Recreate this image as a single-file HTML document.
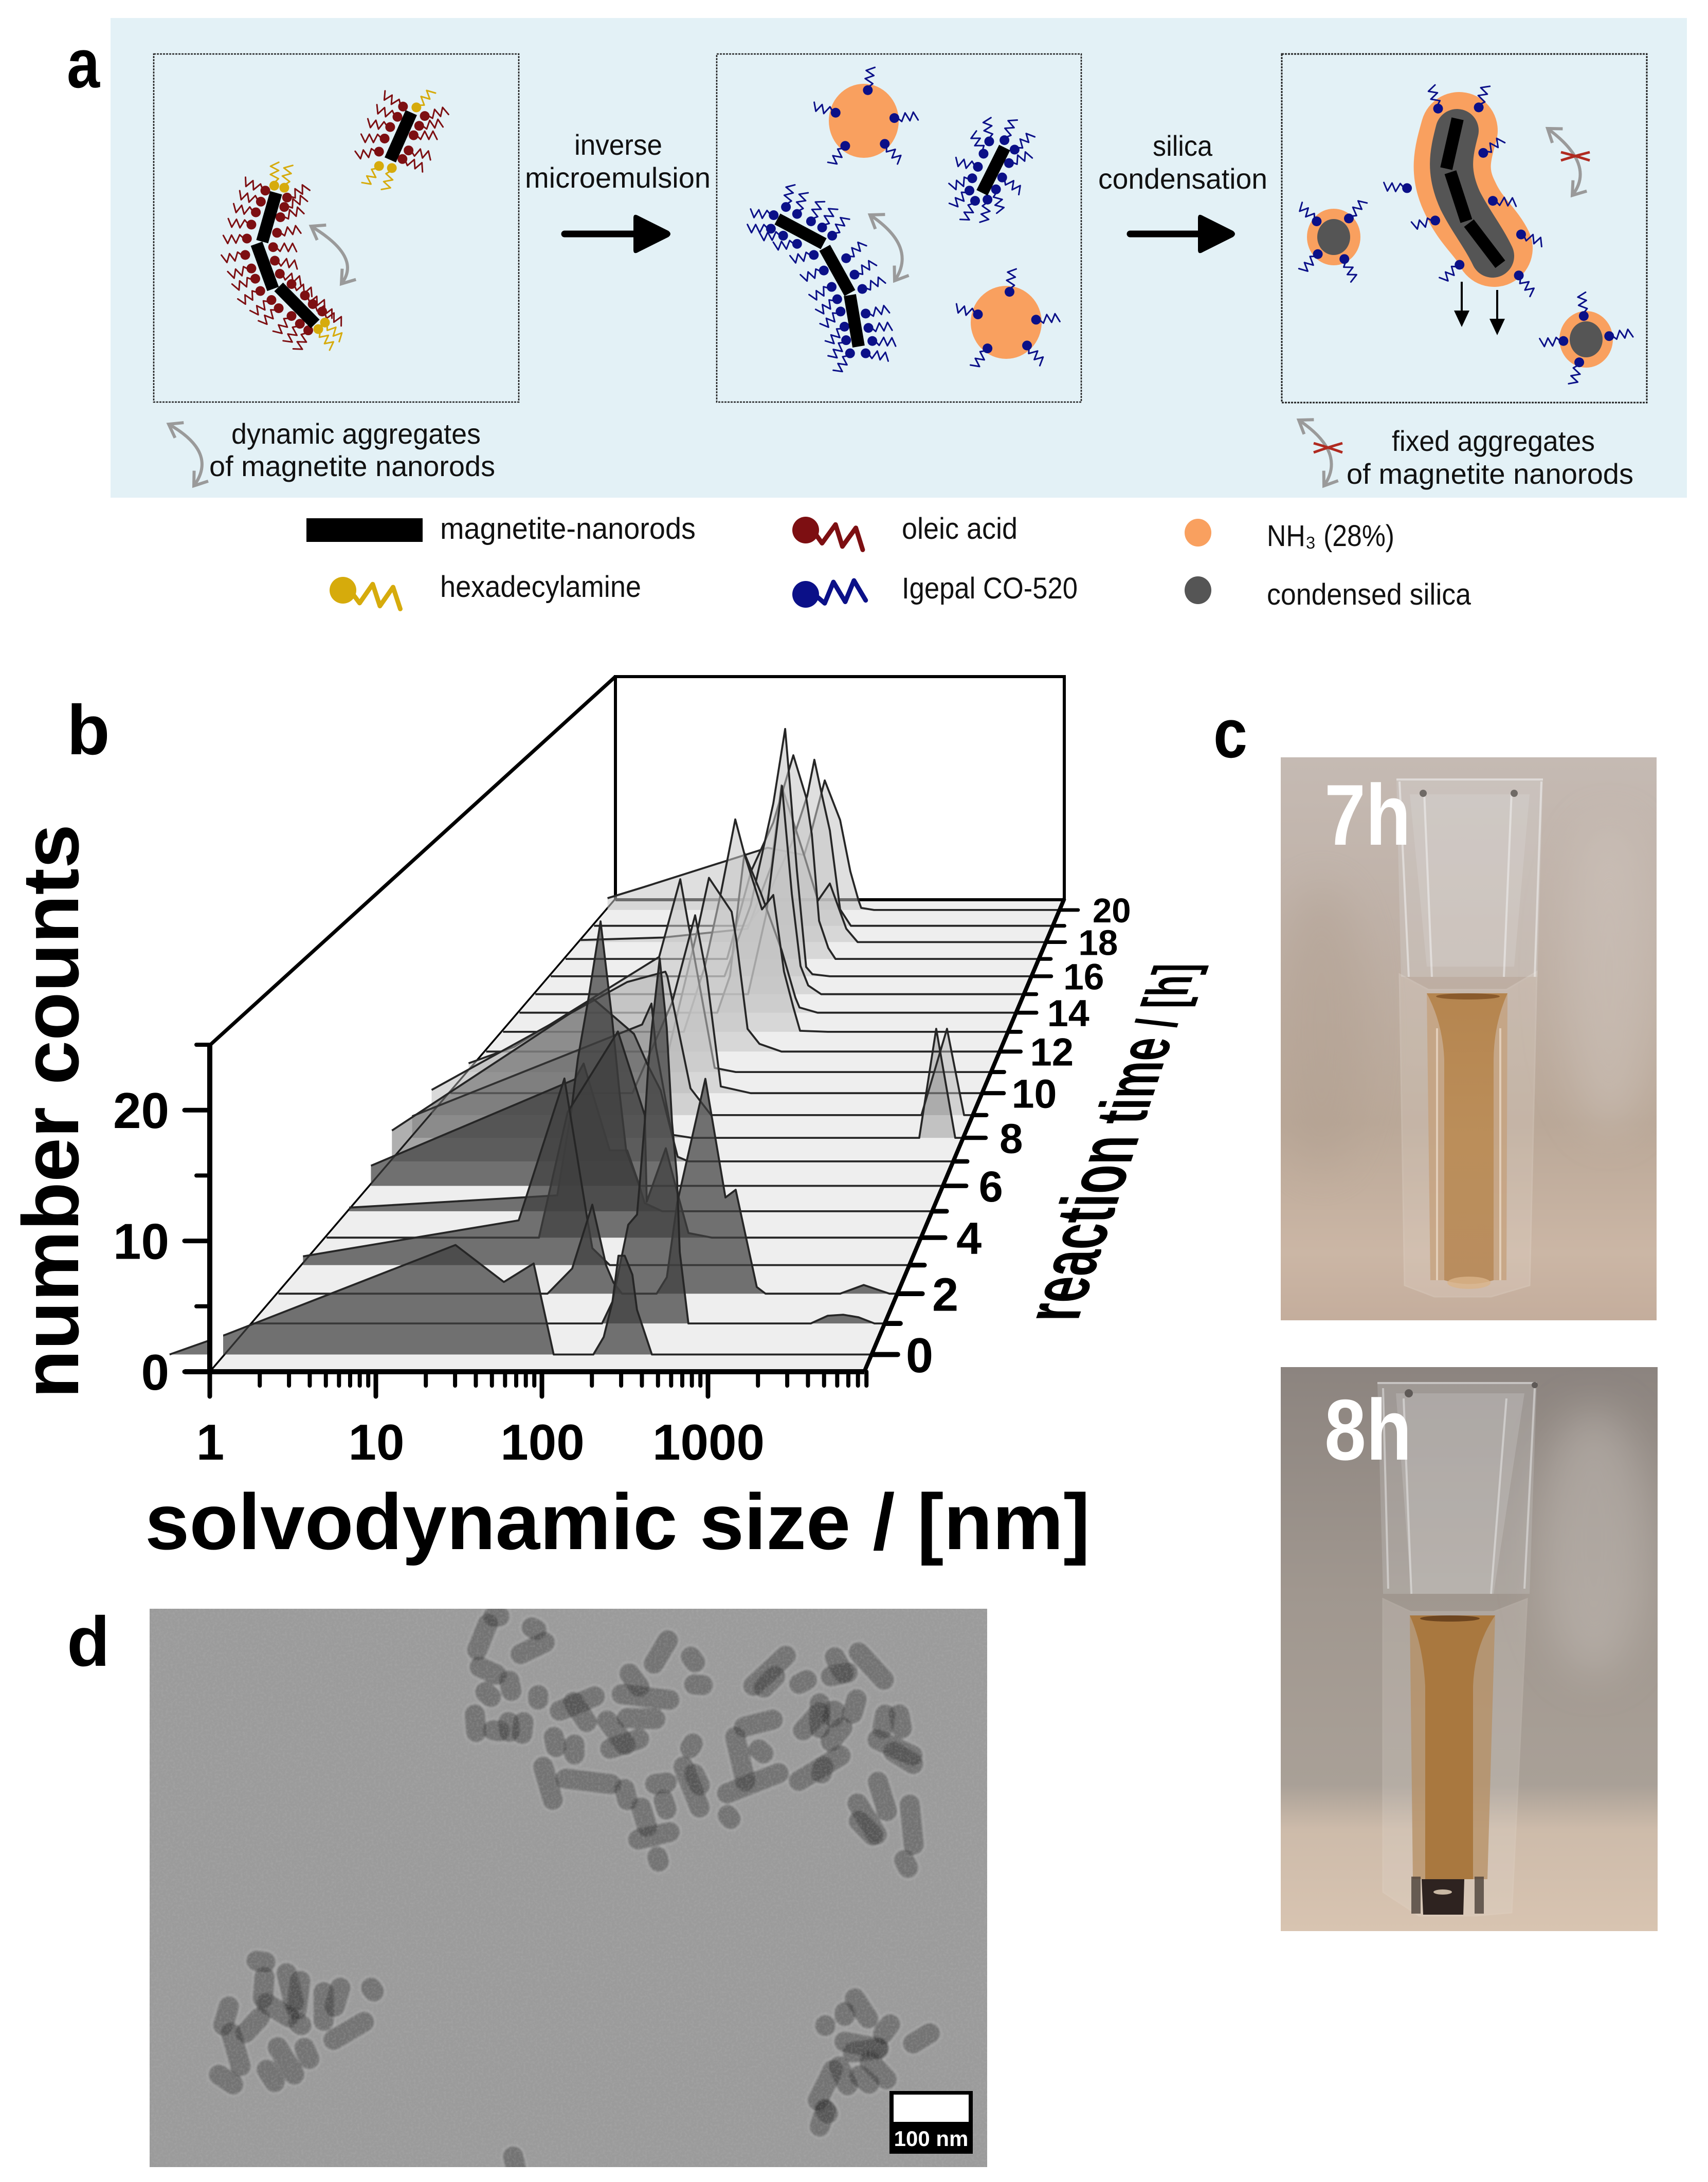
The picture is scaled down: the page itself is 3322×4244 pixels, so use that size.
<!DOCTYPE html>
<html lang="en">
<head>
<meta charset="utf-8">
<title>Magnetite nanorod aggregates figure</title>
<style>
html,body{margin:0;padding:0;background:#fff}
svg{display:block}
text{font-family:"Liberation Sans",Arial,sans-serif;fill:#111}
</style>
</head>
<body>
<svg id="fig" xmlns="http://www.w3.org/2000/svg" width="3322" height="4244" viewBox="0 0 3322 4244">
<defs>
<marker id="chev" viewBox="-30 -22 38 44" refX="0" refY="0" markerWidth="38" markerHeight="44" markerUnits="userSpaceOnUse" orient="auto-start-reverse">
<path d="M-24,-17 L0,0 L-24,17" fill="none" stroke="#9a9a9a" stroke-width="6"/>
</marker>
<linearGradient id="photo1" x1="0" y1="0" x2="0" y2="1">
<stop offset="0" stop-color="#c5bab3"/><stop offset=".3" stop-color="#bfb1a7"/><stop offset=".65" stop-color="#baa898"/><stop offset=".88" stop-color="#cbb6a5"/><stop offset="1" stop-color="#c4ad9c"/>
</linearGradient>
<linearGradient id="photo2" x1="0" y1="0" x2="0" y2="1">
<stop offset="0" stop-color="#8c847f"/><stop offset=".4" stop-color="#a0978f"/><stop offset=".74" stop-color="#a9a097"/><stop offset=".82" stop-color="#cdbbaa"/><stop offset="1" stop-color="#d8c4b1"/>
</linearGradient>
<linearGradient id="amber" x1="0" y1="0" x2="0" y2="1">
<stop offset="0" stop-color="#b5854f"/><stop offset=".5" stop-color="#bb8e5a"/><stop offset="1" stop-color="#b98d5f"/>
</linearGradient>
<clipPath id="clip1"><rect x="2491" y="1473" width="731" height="1095"/></clipPath>
<clipPath id="clip2"><rect x="2491" y="2659" width="733" height="1097"/></clipPath>
<filter id="soft" x="-50%" y="-50%" width="200%" height="200%"><feGaussianBlur stdDeviation="40"/></filter>
<filter id="blur2" filterUnits="userSpaceOnUse" x="291" y="3129" width="1629" height="1086"><feGaussianBlur stdDeviation="2.2"/></filter>
<filter id="noise" x="0" y="0" width="100%" height="100%">
<feTurbulence type="fractalNoise" baseFrequency="0.22" numOctaves="2" seed="4"/>
<feColorMatrix type="matrix" values="0 0 0 0 0.5  0 0 0 0 0.5  0 0 0 0 0.5  1.4 0 0 0 -0.55"/>
</filter>
</defs>

<rect width="3322" height="4244" fill="#fff"/>

<!-- PANEL A -->
<g id="panelA">
<rect x="215" y="35" width="3066" height="933" fill="#e3f1f6"/>
<text x="130" y="170" font-size="135" font-weight="700" fill="#000" style="fill:#000" textLength="64" lengthAdjust="spacingAndGlyphs">a</text>
<rect x="299" y="105" width="710" height="677" fill="none" stroke="#222" stroke-width="2.6" stroke-dasharray="4 2"/>
<rect x="1394" y="105" width="709" height="677" fill="none" stroke="#222" stroke-width="2.6" stroke-dasharray="4 2"/>
<rect x="2493" y="105" width="710" height="678" fill="none" stroke="#222" stroke-width="3" stroke-dasharray="4 2"/>

<text x="1117" y="301" font-size="56" textLength="171" lengthAdjust="spacingAndGlyphs">inverse</text>
<text x="1021" y="365" font-size="56" textLength="361" lengthAdjust="spacingAndGlyphs">microemulsion</text>
<text x="2242" y="303" font-size="56" textLength="116" lengthAdjust="spacingAndGlyphs">silica</text>
<text x="2136" y="367" font-size="56" textLength="329" lengthAdjust="spacingAndGlyphs">condensation</text>
<text x="450" y="863" font-size="56" textLength="485" lengthAdjust="spacingAndGlyphs">dynamic aggregates</text>
<text x="407" y="926" font-size="56" textLength="556" lengthAdjust="spacingAndGlyphs">of magnetite nanorods</text>
<text x="2707" y="877" font-size="56" textLength="395" lengthAdjust="spacingAndGlyphs">fixed aggregates</text>
<text x="2619" y="941" font-size="56" textLength="558" lengthAdjust="spacingAndGlyphs">of magnetite nanorods</text>

<g>
<line x1="1098" y1="455" x2="1240" y2="455" stroke="#000" stroke-width="13" stroke-linecap="round"/>
<path d="M1232,424 Q1232,414 1242,420 L1300,449 Q1308,455 1300,461 L1242,490 Q1232,496 1232,486 Z" fill="#000"/>
</g>
<g>
<line x1="2198" y1="455" x2="2340" y2="455" stroke="#000" stroke-width="13" stroke-linecap="round"/>
<path d="M2330,424 Q2330,414 2340,420 L2398,449 Q2406,455 2398,461 L2340,490 Q2330,496 2330,486 Z" fill="#000"/>
</g>

<path d="M605,440 Q705,500 664,552" fill="none" stroke="#9a9a9a" stroke-width="6" marker-start="url(#chev)" marker-end="url(#chev)"/>
<path d="M328,825 Q425,880 377,945" fill="none" stroke="#9a9a9a" stroke-width="6" marker-start="url(#chev)" marker-end="url(#chev)"/>
<path d="M1692,418 Q1785,480 1740,546" fill="none" stroke="#9a9a9a" stroke-width="6" marker-start="url(#chev)" marker-end="url(#chev)"/>
<path d="M3010,250 Q3105,320 3058,380" fill="none" stroke="#9a9a9a" stroke-width="6" marker-start="url(#chev)" marker-end="url(#chev)"/>
<path d="M2526,817 Q2620,880 2575,945" fill="none" stroke="#9a9a9a" stroke-width="6" marker-start="url(#chev)" marker-end="url(#chev)"/>
<g stroke="#b02a20" stroke-width="5" fill="none">
<path d="M3036,296 Q3064,303 3092,312"/><path d="M3036,312 Q3064,303 3092,296"/>
</g>
<g stroke="#b02a20" stroke-width="5" fill="none">
<path d="M2555,862 Q2583,870 2611,880"/><path d="M2555,880 Q2583,870 2611,862"/>
</g>

<ellipse cx="1680" cy="235" rx="68" ry="72" fill="#f9a05f"/>
<ellipse cx="1957" cy="627" rx="69" ry="71" fill="#f9a05f"/>
<ellipse cx="2594" cy="461" rx="52" ry="55" fill="#f9a05f"/>
<ellipse cx="2594" cy="461" rx="32" ry="35" fill="#555"/>
<ellipse cx="3085" cy="660" rx="52" ry="55" fill="#f9a05f"/>
<ellipse cx="3085" cy="660" rx="32" ry="35" fill="#555"/>
<path d="M2838,254 C2825,300 2815,335 2840,385 C2860,430 2890,450 2906,483" fill="none" stroke="#f9a05f" stroke-width="150" stroke-linecap="round" stroke-linejoin="round"/>
<path d="M2834,254 C2822,300 2815,335 2840,390 C2860,430 2885,460 2903,498" fill="none" stroke="#555" stroke-width="84" stroke-linecap="round" stroke-linejoin="round"/>

<g id="mols"></g>

<g stroke="#000" stroke-width="24" fill="none">
<line x1="537" y1="375" x2="510" y2="470"/><line x1="499" y1="474" x2="531" y2="562"/><line x1="542" y1="558" x2="613" y2="630"/>
<line x1="800" y1="219" x2="759" y2="311"/>
<line x1="1512" y1="426" x2="1602" y2="474"/><line x1="1604" y1="482" x2="1653" y2="570"/><line x1="1653" y1="574" x2="1670" y2="674"/>
<line x1="1954" y1="287" x2="1910" y2="375"/>
<line x1="2835" y1="231" x2="2813" y2="328"/><line x1="2821" y1="335" x2="2852" y2="430"/><line x1="2857" y1="434" x2="2918" y2="514"/>
</g>
<g>
<line x1="2843" y1="548" x2="2843" y2="610" stroke="#000" stroke-width="4"/><path d="M2828,604 L2858,604 L2843,636 Z" fill="#000"/>
<line x1="2912" y1="564" x2="2912" y2="626" stroke="#000" stroke-width="4"/><path d="M2897,620 L2927,620 L2912,652 Z" fill="#000"/>
</g>
</g>

<!-- LEGEND -->
<g>
<rect x="596" y="1008" width="226" height="46" fill="#000"/>
<text x="856" y="1048" font-size="58" textLength="497" lengthAdjust="spacingAndGlyphs">magnetite-nanorods</text>
<text x="856" y="1161" font-size="58" textLength="391" lengthAdjust="spacingAndGlyphs">hexadecylamine</text>
<text x="1754" y="1048" font-size="58" textLength="225" lengthAdjust="spacingAndGlyphs">oleic acid</text>
<text x="1754" y="1164" font-size="58" textLength="342" lengthAdjust="spacingAndGlyphs">Igepal CO-520</text>
<ellipse cx="2330" cy="1036" rx="26" ry="27" fill="#f9a05f"/>
<ellipse cx="2330" cy="1148" rx="26" ry="27" fill="#555"/>
<text x="2464" y="1062" font-size="58" textLength="248" lengthAdjust="spacingAndGlyphs">NH₃ (28%)</text>
<text x="2464" y="1176" font-size="58" textLength="397" lengthAdjust="spacingAndGlyphs">condensed silica</text>
</g>

<!-- PANEL B -->
<g id="panelB">
<text x="130" y="1467" font-size="137" font-weight="700" style="fill:#000">b</text>
<polygon points="1197,1748 2070,1748 1681,2668 408,2668" fill="#eeeeee"/>
<line x1="408" y1="2668" x2="1197" y2="1748" stroke="#000" stroke-width="3.5"/>
<line x1="1197" y1="1750" x2="2070" y2="1750" stroke="#000" stroke-width="6"/>
<path d="M1197,1748 L1197,1316 L2070,1316 L2070,1750" fill="none" stroke="#000" stroke-width="6"/>
<g id="series"></g>
<rect x="413" y="2585" width="21" height="50" fill="#fff"/>
<line x1="408" y1="2033" x2="1197" y2="1316" stroke="#000" stroke-width="7"/>
<line x1="408" y1="2030" x2="408" y2="2672" stroke="#000" stroke-width="10"/>
<line x1="359" y1="2668" x2="1681" y2="2668" stroke="#000" stroke-width="10"/>
<line x1="2070" y1="1748" x2="1681" y2="2668" stroke="#000" stroke-width="8"/>
<g id="axes"></g>
<text transform="translate(152,2720) rotate(-90)" font-size="155" font-weight="700" style="fill:#000" textLength="1117" lengthAdjust="spacingAndGlyphs">number counts</text>
<text x="282" y="3013" font-size="154" font-weight="700" style="fill:#000" textLength="1838" lengthAdjust="spacingAndGlyphs">solvodynamic size / [nm]</text>
<g transform="matrix(0.3168,-0.9485,1.6,0,2096,2570)">
<text font-weight="700" style="fill:#000" font-size="98"><tspan>reaction</tspan><tspan font-size="86"> time</tspan><tspan font-size="72"> / [h]</tspan></text>
</g>
</g>

<!-- PANEL C -->
<g>
<text x="2360" y="1473" font-size="135" font-weight="700" style="fill:#000" textLength="66" lengthAdjust="spacingAndGlyphs">c</text>
<g clip-path="url(#clip1)">
<rect x="2491" y="1473" width="731" height="1095" fill="url(#photo1)"/>
<ellipse cx="2570" cy="2000" rx="90" ry="280" fill="#b09f90" opacity=".45" filter="url(#soft)"/>
<ellipse cx="3130" cy="1900" rx="90" ry="300" fill="#cfc5bd" opacity=".5" filter="url(#soft)"/>
<path d="M2716,1516 L3001,1516 L2990,1900 L2725,1900 Z" fill="#dcdcdc" opacity=".28"/>
<path d="M2742,1545 L2975,1545 L2945,1880 L2775,1880 Z" fill="#e6e6e6" opacity=".2"/>
<g stroke="#f3f3f3" stroke-width="4" opacity=".55" fill="none">
<line x1="2716" y1="1516" x2="3001" y2="1516"/><line x1="2722" y1="1520" x2="2740" y2="1900"/><line x1="2998" y1="1520" x2="2985" y2="1900"/>
<line x1="2770" y1="1540" x2="2785" y2="1900"/><line x1="2940" y1="1540" x2="2925" y2="1900"/>
</g>
<circle cx="2768" cy="1543" r="7" fill="#6f6a66"/><circle cx="2945" cy="1543" r="7" fill="#6f6a66"/>
<path d="M2722,1895 L2778,1925 L2930,1925 L2989,1890 L2975,2500 L2900,2522 L2790,2522 L2732,2500 Z" fill="#ece2d8" opacity=".22" stroke="#f7f1ea" stroke-width="3"/>
<path d="M2775,1932 L2932,1932 L2930,2490 L2782,2490 Z" fill="#c49e78" opacity=".7"/>
<path d="M2775,1932 L2932,1932 Q2906,1990 2905,2060 L2905,2490 Q2857,2505 2809,2490 L2809,2060 Q2806,1990 2775,1932 Z" fill="url(#amber)"/>
<ellipse cx="2855" cy="1938" rx="62" ry="6" fill="#8a5a2c"/>
<line x1="2795" y1="2000" x2="2795" y2="2490" stroke="#ead9c6" stroke-width="4" opacity=".8"/>
<line x1="2918" y1="2000" x2="2918" y2="2490" stroke="#ead9c6" stroke-width="4" opacity=".8"/>
<ellipse cx="2857" cy="2495" rx="42" ry="12" fill="#d9b48a" opacity=".8"/>
<text x="2576" y="1643" font-size="168" font-weight="700" style="fill:#fff" textLength="168" lengthAdjust="spacingAndGlyphs">7h</text>
</g>
<g clip-path="url(#clip2)">
<rect x="2491" y="2659" width="733" height="1097" fill="url(#photo2)"/>
<ellipse cx="3100" cy="3000" rx="110" ry="260" fill="#c2bbb5" opacity=".5" filter="url(#soft)"/>
<path d="M2679,2688 L2989,2688 L2975,3100 L2690,3100 Z" fill="#d6d6d6" opacity=".24"/>
<path d="M2715,2710 L2965,2710 L2905,3100 L2745,3100 Z" fill="#e6e6e6" opacity=".2"/>
<g stroke="#eeeeee" stroke-width="4" opacity=".5" fill="none">
<line x1="2679" y1="2690" x2="2989" y2="2690"/><line x1="2690" y1="2700" x2="2700" y2="3090"/><line x1="2985" y1="2700" x2="2965" y2="3090"/>
<line x1="2730" y1="2720" x2="2745" y2="3100"/><line x1="2930" y1="2720" x2="2900" y2="3100"/>
</g>
<circle cx="2740" cy="2710" r="8" fill="#5f5a57"/><circle cx="2985" cy="2694" r="6" fill="#5f5a57"/>
<path d="M2690,3110 L2744,3135 L2905,3135 L2970,3110 L2940,3720 L2870,3726 L2760,3726 L2690,3680 Z" fill="#e6e0da" opacity=".2" stroke="#efe8e0" stroke-width="3"/>
<path d="M2742,3142 L2908,3142 L2893,3655 L2748,3655 Z" fill="#b58f63" opacity=".75"/>
<path d="M2742,3142 L2908,3142 Q2868,3200 2865,3280 L2865,3655 L2772,3655 L2772,3280 Q2768,3200 2742,3142 Z" fill="#a9783f"/>
<ellipse cx="2820" cy="3148" rx="58" ry="6" fill="#6d451f"/>
<path d="M2765,3655 L2848,3655 L2846,3724 L2768,3724 Z" fill="#2e2320"/>
<ellipse cx="2806" cy="3680" rx="18" ry="5" fill="#c9b8a4"/>
<rect x="2745" y="3650" width="18" height="72" fill="#4a4038" opacity=".8"/><rect x="2868" y="3650" width="18" height="72" fill="#4a4038" opacity=".8"/>
<text x="2576" y="2839" font-size="168" font-weight="700" style="fill:#fff" textLength="170" lengthAdjust="spacingAndGlyphs">8h</text>
</g>
</g>

<!-- PANEL D -->
<g>
<text x="130" y="3240" font-size="137" font-weight="700" style="fill:#000">d</text>
<svg x="291" y="3129" width="1629" height="1086" viewBox="291 3129 1629 1086">
<rect x="291" y="3129" width="1629" height="1086" fill="#9b9b9b"/>
<g id="rods" filter="url(#blur2)"></g>
<rect x="291" y="3129" width="1629" height="1086" filter="url(#noise)" opacity=".35"/>
</svg>
<rect x="1730" y="4067" width="162" height="122" fill="#000"/>
<rect x="1738" y="4074" width="146" height="53" fill="#fff"/>
<text x="1811" y="4174" font-size="42" font-weight="700" text-anchor="middle" style="fill:#fff">100 nm</text>
</g>
</svg>

<script>
// ===== Chart b data =====
const hours = [0,1,2,3,4,5,6,7,8,9,10,11,12,13,14,15,16,17,18,19,20];
const xDecades = [1,10,100,1000];
const xMinorLimit = 9000;
const yMajorTicks = [0,10,20];
const yMinorTicks = [5,15,25];
const timeLabels = [0,2,4,6,8,10,12,14,16,18,20];
// log10(size / nm) of each vertex, per reaction-time series
const logSizes = [
[-0.346,0,1.398,1.693,1.875,1.997,2.239,2.302,2.355,2.392,2.43,2.477,2.505,2.596,3.94],
[0,2.175,2.239,2.338,2.393,2.409,2.441,2.463,2.485,2.534,2.578,2.611,2.642,2.659,2.713,3.475,3.581,3.677,3.773,3.872,3.94],
[0,1.711,1.868,1.996,2.084,2.13,2.185,2.405,2.47,2.536,2.715,2.843,2.908,3.042,3.098,3.572,3.722,3.886,3.94],
[0,1.4,1.697,1.844,1.878,1.991,3.94],
[0,1.406,1.596,1.929,2.107,2.12,2.246,2.321,2.396,2.552,3.94],
[0,1.405,1.499,1.544,1.62,1.697,1.776,1.825,1.87,1.957,1.995,2.113,3.94],
[0,1.402,1.463,1.643,1.763,1.848,3.94],
[0,1.408,1.697,1.794,1.884,2.003,2.079,3.94],
[0,1.642,1.709,1.741,1.855,1.998,3.621,3.742,3.878,3.94],
[0,1.422,1.699,1.714,1.882,2.032,3.561,3.747,3.871,3.94],
[0,1.347,1.64,1.811,1.898,2.001,2.222,3.94],
[0,0.343,1.435,1.594,1.659,1.853,2.012,3.94],
[0,1.396,1.629,1.707,1.881,1.916,2.003,2.094,2.263,3.94],
[0,1.408,1.572,1.697,1.809,1.881,2.017,2.105,2.189,2.261,2.314,2.53,3.94],
[0,1.567,1.668,1.738,1.782,1.913,2.076,2.186,2.218,2.361,3.94],
[0,1.713,1.858,1.941,1.986,2.065,2.135,2.197,2.301,3.94],
[0,1.422,1.636,1.821,1.918,1.956,2.015,2.09,2.141,2.284,3.94],
[0,1.342,1.543,1.726,1.893,2,2.047,2.107,2.184,2.243,3.94],
[0,0.699,1.415,1.614,1.701,1.892,2.009,2.109,2.248,2.344,3.94],
[0,1.317,1.475,1.696,1.828,1.889,1.951,2.022,2.11,2.202,3.94],
[0,0.306,1.393,1.711,1.782,1.89,2.024,2.113,2.185,2.207,2.319,3.94]
];
// number counts of each vertex, per reaction-time series
const counts = [
[0,1.55,8.46,5.6,7.03,0,0,1.35,4.05,7.63,7.63,6.16,3.46,0,0],
[0,0,1.7,7.79,8.6,10.95,15.86,20.37,23.33,28.8,23.33,15.86,11.52,5.64,0,0,0.61,0.69,0.49,0,0],
[0,0,2.03,7.17,2.28,0.91,0,0,1.33,7.33,17.31,7.75,8.37,0.54,0,0,0.7,0,0],
[0.72,3.68,15.34,3.89,1.39,0,0],
[0,0,10.52,17.29,10.26,3.02,7.5,3.84,0.39,0,0],
[0.31,1.36,8.53,13.06,18.55,24.79,16.35,10.11,5.19,2.24,0.7,0,0],
[1.75,9.28,10.66,3.09,3.09,0,0],
[2.74,14.47,11.32,8.54,6.3,0.41,0,0],
[1.95,10.25,12.14,8.18,0.28,0,0,9.86,0,0],
[2.32,12.26,13.21,12.78,2.46,0,0,7.95,0,0],
[0,0,8.48,16.68,10.89,0.63,0,0],
[0.83,2.4,10.98,18.39,13.83,0.39,0,0],
[0,0,12.32,16.86,13.57,10.93,2.2,0.75,0,0],
[0,0,6.44,13.7,20.96,17.51,12.08,13.5,5.94,2.44,0.1,0,0],
[0,0,3.71,11.45,15.99,11.97,6.29,1.5,0.52,0,0],
[0,0,8.13,16.52,21.23,10.22,2.88,0.89,0,0],
[0,0,7.35,17.9,25.63,19.98,10.87,0.96,0.21,0,0],
[0,0,9.26,14.34,21.44,17,13.1,4.01,1.14,0,0],
[0.22,0.49,1.43,8.08,16.77,9.29,4.45,6.27,1.43,0,0],
[0,0,2.85,8.99,14.12,18.03,14.35,10.33,1.79,0,0],
[1.3,2.49,6.86,6.06,9.07,14.28,9.92,4.25,1.02,0.23,0,0]
];

// ===== Axis functions (perspective projection of the 3D waterfall) =====
function depth(t){ return 1/(1+0.458*(t+0.6)/21.2); }
function px(logS,t){ return 2920-(2512-323*logS)*depth(t); }
function py(c,t){ return -257+(2929-25.5*c)*depth(t); }
function frontX(nm){ return 408+323*Math.log10(nm); }
function frontY(c){ return 2668-25.44*c; }

const NS='http://www.w3.org/2000/svg';
function mk(tag,parent,attrs){
  const el=document.createElementNS(NS,tag);
  for(const k in attrs) el.setAttribute(k,attrs[k]);
  parent.appendChild(el);
  return el;
}
function seriesFill(t){
  if(t<=6) return ['#404040',0.72];
  if(t===7) return ['#404040',0.42];
  if(t===8) return ['#404040',0.25];
  if(t===9) return ['#b4b4b4',0.5];
  return ['#c4c4c4',0.55];
}
const seriesG=document.getElementById('series');
for(let i=hours.length-1;i>=0;i--){
  const t=hours[i];
  const L=logSizes[i], C=counts[i];
  const pts=L.map((v,j)=>px(v,t).toFixed(1)+','+py(C[j],t).toFixed(1));
  const first=px(L[0],t).toFixed(1)+','+py(0,t).toFixed(1);
  const last=px(L[L.length-1],t).toFixed(1)+','+py(0,t).toFixed(1);
  const style=seriesFill(t);
  const area=mk('polygon',seriesG,{points:first+' '+pts.join(' ')+' '+last,fill:style[0],'fill-opacity':style[1],stroke:'none'});
  
  
  const line=mk('polyline',seriesG,{points:pts.join(' '),fill:'none',stroke:'#262626','stroke-width':3.8,'stroke-linejoin':'round'});
  
  
}

const axes=document.getElementById('axes');
function tickLine(x1,y1,x2,y2,w,name){
  const el=mk('line',axes,{x1:x1,y1:y1,x2:x2,y2:y2,stroke:'#000','stroke-width':w,'stroke-linecap':'round'});
  
  
}
function label(x,y,txt,size,anchor,name){
  const el=mk('text',axes,{x:x,y:y,'font-size':size,'font-weight':700,'text-anchor':anchor,style:'fill:#000'});
  el.textContent=txt;
  
  
}
xDecades.forEach(d=>{
  tickLine(frontX(d),2668,frontX(d),2716,9,'x-major-tick-'+d);
  label(frontX(d)+1,2839,String(d),98,'middle','x-tick-label-'+d);
  for(let m=2;m<=9;m++){
    if(d*m<=xMinorLimit) tickLine(frontX(d*m),2668,frontX(d*m),2695,8,'x-minor-tick-'+d*m);
  }
});
yMajorTicks.forEach(v=>{
  tickLine(359,frontY(v),408,frontY(v),9,'y-major-tick-'+v);
  label(329,frontY(v)+35,String(v),98,'end','y-tick-label-'+v);
});
yMinorTicks.forEach(v=>{
  tickLine(382,frontY(v),408,frontY(v),8,'y-minor-tick-'+v);
});
hours.forEach(t=>{
  const s=depth(t);
  const xd=px(3.94,t), yd=py(0,t);
  const major=t%2===0;
  tickLine(xd,yd,xd+(major?50:30)*s,yd,10*s,(major?'time-major-tick-':'time-minor-tick-')+t);
});
timeLabels.forEach(t=>{
  const s=depth(t);
  const size=97*s;
  label(px(3.94,t)+(t>=10?100:92),py(0,t)+0.36*size,String(t),size,'middle','time-tick-label-'+t);
});

// ===== Panel a molecules (schematic) =====
const z1=(x,y)=>[x/0.9224,y/1.2544];
const z2=(x,y)=>[1600+x/0.9106,y/1.2544];
const molsG=document.getElementById('mols');
const RED='#7d0f12', BLUE='#0b1088', YEL='#d6ab0c';
function molecule(parent,hx,hy,dx,dy,color,len,r,amp,sw,n){
  const d=Math.hypot(dx,dy)||1;
  const ux=dx/d, uy=dy/d, vx=-uy, vy=ux;
  const pts=[];
  for(let i=0;i<=n;i++){
    const a=r*0.6+i*len/n;
    const o=i===0?0:(i%2?amp:-amp);
    pts.push((hx+ux*a+vx*o).toFixed(1)+','+(hy+uy*a+vy*o).toFixed(1));
  }
  const tail=mk('polyline',parent,{points:pts.join(' '),fill:'none',stroke:color,'stroke-width':sw,'stroke-linejoin':'round','stroke-linecap':'round'});
  
  
  const head=mk('circle',parent,{cx:hx,cy:hy,r:r,fill:color});
  
  
}
function radial(list,conv,ox,oy,color){
  const o=conv(ox,oy);
  list.forEach(p=>{
    const h=conv(p[0],p[1]);
    molecule(molsG,h[0],h[1],h[0]-o[0],h[1]-o[1],color,40,9.5,8,3,5);
  });
}
// dynamic aggregates
radial([[723,260],[713,285],[700,310],[690,338],[680,370]],z1,820,340,RED);
radial([[762,283],[752,307],[742,330],[733,367],[722,388]],z1,620,330,RED);
radial([[747,262]],z1,700,330,YEL);
radial([[680,405],[703,410]],z1,720,330,YEL);
radial([[476,465],[468,492],[459,518],[451,548],[443,582],[440,622],[451,655],[458,680],[467,710],[487,732],[500,752],[523,771],[538,790],[553,806]],z1,650,570,RED);
radial([[515,482],[510,505],[503,530],[497,568],[490,603],[493,636],[502,668],[523,693],[547,721],[561,742],[578,760]],z1,350,600,RED);
radial([[492,453],[510,458]],z1,490,600,YEL);
radial([[583,787],[571,803]],z1,500,680,YEL);
// microemulsion chain and rod
radial([[1388,525],[1383,558],[1405,575],[1430,595],[1460,622],[1478,660],[1492,700],[1502,730],[1508,760],[1515,797],[1518,830],[1525,862]],z1,1680,560,BLUE);
radial([[1410,505],[1430,522],[1455,540],[1475,555],[1493,575],[1518,630],[1533,670],[1547,705],[1553,765],[1558,800],[1565,832],[1553,862]],z1,1360,820,BLUE);
radial([[295,345],[322,342],[340,365],[285,375],[330,398],[275,407],[318,433],[265,435],[307,462],[260,465],[270,490],[292,487]],z2,300,415,BLUE);
radial([[80,220],[23,275],[127,288],[40,356],[110,351]],z2,73,295,BLUE);
radial([[331,712],[275,767],[378,780],[292,850],[362,843]],z2,325,787,BLUE);
// fixed aggregates
radial([[875,540],[932,533],[877,620],[924,632]],z2,905,578,BLUE);
radial([[1348,771],[1312,832],[1393,820],[1340,884]],z2,1352,828,BLUE);
radial([[1090,265],[1162,262]],z2,1125,420,BLUE);
radial([[1170,373],[1187,490],[1237,572]],z2,1060,480,BLUE);
radial([[1085,538],[1128,646]],z2,1260,480,BLUE);
radial([[1233,672]],z2,1170,560,BLUE);
radial([[1035,459]],z2,1100,465,BLUE);
// legend molecules
molecule(molsG,667,1148,110,16,YEL,100,26,20,9,5);
molecule(molsG,1567,1031,110,18,RED,100,26,20,9,5);
molecule(molsG,1567,1156,110,-8,BLUE,100,26,20,9,5);

// ===== Panel d nanorods (image approximation) =====
const rodList=[
[650,60,620,170],[710,80,745,105],[640,60,680,60],[760,120,690,170],[975,105,935,205],[1000,150,1025,200],[1000,240,1045,245],[890,195,925,265],[640,262,650,275],[735,270,735,282],[620,300,625,390],[640,360,680,370],[680,320,685,390],[710,320,705,395],[680,210,690,280],[630,195,660,215],[760,320,850,265],[790,270,830,360],[870,265,985,285],[880,330,960,335],[800,380,800,450],[760,360,770,430],[740,440,765,570],[770,490,880,510],[850,420,930,380],[850,320,900,420],[920,570,930,620],[900,660,985,630],[945,680,955,735],[930,510,980,500],[960,550,965,575],[890,520,895,550],[1020,380,1000,430],[990,440,1030,590],[1015,480,1025,510],[1060,540,1180,470],[1075,590,1080,600],[1085,360,1110,520],[1090,360,1170,330],[1120,400,1150,440],[1110,260,1190,150],[1140,250,1160,220],[1190,250,1230,220],[1260,150,1290,230],[1300,140,1365,245],[1260,220,1290,210],[1240,270,1240,380],[1310,260,1295,340],[1270,290,1260,350],[1360,300,1350,380],[1380,300,1390,380],[1330,380,1420,440],[1360,410,1420,465],[1200,380,1250,300],[1250,410,1290,340],[1240,500,1250,440],[1190,510,1290,420],[1300,540,1350,660],[1340,480,1365,600],[1300,590,1345,660],[1400,540,1410,690],[1385,690,1405,750],
[215,975,260,985],[245,1000,240,1100],[280,990,300,1110],[310,1010,300,1130],[235,1080,300,1140],[350,1040,350,1160],[380,1050,370,1100],[435,1050,440,1060],[355,1200,435,1130],[180,1100,170,1150],[180,1150,205,1280],[210,1170,235,1130],[150,1270,200,1320],[240,1250,270,1320],[260,1190,305,1300],[310,1190,330,1260],[305,1145,310,1150],
[1295,1060,1335,1150],[1285,1115,1285,1125],[1250,1150,1250,1152],[1375,1130,1345,1190],[1450,1160,1395,1210],[1270,1190,1360,1215],[1285,1225,1360,1210],[1275,1260,1290,1310],[1320,1230,1370,1310],[1300,1270,1340,1320],[1230,1370,1270,1250],[1250,1375,1240,1420],[1250,1375,1255,1385],
[690,1500,695,1530]
];
const rodsG=document.getElementById('rods');
const zx=x=>x/0.9224+250, zy=y=>y/1.3706+3100;
function rodEnds(r){
  let x1=zx(r[0]),y1=zy(r[1]),x2=zx(r[2]),y2=zy(r[3]);
  const d=Math.hypot(x2-x1,y2-y1);
  if(d>40){
    const k=16/d;
    const ex=(x2-x1)*k, ey=(y2-y1)*k;
    x1+=ex;y1+=ey;x2-=ex;y2-=ey;
  }
  return [x1,y1,x2,y2];
}
rodList.forEach(r=>{
  const e=rodEnds(r);
  const halo=mk('line',rodsG,{x1:e[0],y1:e[1],x2:e[2],y2:e[3],stroke:'#c4c4c4','stroke-opacity':.55,'stroke-width':46,'stroke-linecap':'round'});
  
  
});
rodList.forEach(r=>{
  const e=rodEnds(r);
  const rod=mk('line',rodsG,{x1:e[0],y1:e[1],x2:e[2],y2:e[3],stroke:'#333333','stroke-opacity':.5,'stroke-width':41,'stroke-linecap':'round'});
  
  
});
</script>
</body>
</html>
